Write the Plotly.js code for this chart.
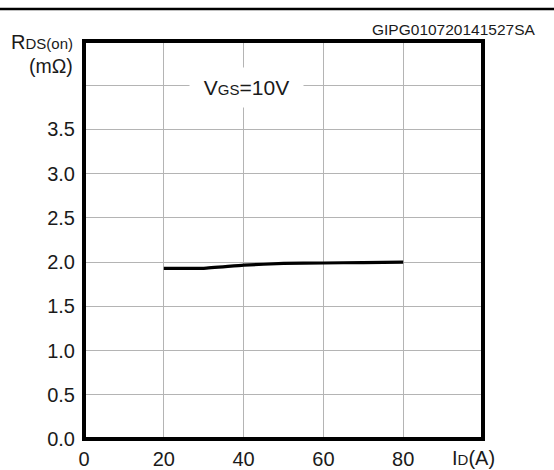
<!DOCTYPE html>
<html>
<head>
<meta charset="utf-8">
<script src="https://cdn.plot.ly/plotly-3.0.1.min.js"></script>
<style>html,body{margin:0;padding:0;background:#fff;}#chart{width:554px;height:470px;}</style>
</head>
<body>
<div id="chart"></div>
<script>
// Data
const idAmps = [20, 30, 40, 50, 60, 70, 80];
const rdsOn = [1.93, 1.93, 1.965, 1.985, 1.99, 1.995, 2.0];
const xTickVals = [0, 20, 40, 60, 80, 100];
const xTickText = ['0', '20', '40', '60', '80', ''];
const yTickVals = [0, 0.5, 1.0, 1.5, 2.0, 2.5, 3.0, 3.5, 4.0];
const yTickText = ['0.0', '0.5', '1.0', '1.5', '2.0', '2.5', '3.0', '3.5', ''];

const FONT = 'Liberation Sans, Arial, sans-serif';
const L = 84, T = 41, W = 399, H = 398;
const px = x => (x - L) / W;
const py = y => (T + H - y) / H;

const trace = {
  x: idAmps, y: rdsOn, type: 'scatter', mode: 'lines',
  line: {color: '#000', width: 3.2, shape: 'spline', smoothing: 0.4},
  hoverinfo: 'skip', showlegend: false
};

const layout = {
  width: 554, height: 470,
  margin: {l: L, r: 554 - L - W, t: T, b: 470 - T - H},
  paper_bgcolor: '#fff', plot_bgcolor: '#fff',
  font: {family: FONT, color: '#1a1a1a', size: 20},
  showlegend: false,
  xaxis: {
    range: [0, 100], tickmode: 'array', tickvals: xTickVals, ticktext: xTickText,
    showgrid: true, gridcolor: '#b4b4b4', gridwidth: 1, zeroline: false,
    showline: false, ticks: '', tickfont: {size: 20, family: FONT, color: '#1a1a1a'},
    ticklabelstandoff: 6, fixedrange: true
  },
  yaxis: {
    range: [0, 4.5], tickmode: 'array', tickvals: yTickVals, ticktext: yTickText,
    showgrid: true, gridcolor: '#b4b4b4', gridwidth: 1, zeroline: false,
    showline: false, ticks: '', tickfont: {size: 20, family: FONT, color: '#1a1a1a'},
    ticklabelstandoff: 8, fixedrange: true
  },
  shapes: [
    {type: 'rect', xref: 'paper', yref: 'paper', x0: 0, x1: 1, y0: 0, y1: 1,
     line: {color: '#000', width: 4}, layer: 'above'},
    {type: 'line', xref: 'paper', yref: 'paper', x0: px(0), x1: px(554), y0: py(9), y1: py(9),
     line: {color: '#000', width: 2.5}}
  ],
  annotations: [
    {xref: 'paper', yref: 'paper', x: px(538), y: py(29), xanchor: 'right', yanchor: 'middle',
     text: 'GIPG010720141527SA', showarrow: false, font: {size: 15.5, family: FONT, color: '#1a1a1a'}},
    {xref: 'paper', yref: 'paper', x: px(75), y: py(42), xanchor: 'right', yanchor: 'middle',
     text: 'R<span style="font-size:15px">DS(on)</span>', showarrow: false, font: {size: 20, family: FONT, color: '#1a1a1a'}},
    {xref: 'paper', yref: 'paper', x: px(75), y: py(66), xanchor: 'right', yanchor: 'middle',
     text: '(mΩ)', showarrow: false, font: {size: 19.5, family: FONT, color: '#1a1a1a'}},
    {xref: 'paper', yref: 'paper', x: px(450), y: py(458), xanchor: 'left', yanchor: 'middle',
     text: 'I<span style="font-size:15px">D</span>(A)', showarrow: false, font: {size: 20, family: FONT, color: '#1a1a1a'}},
    {xref: 'paper', yref: 'paper', x: px(246), y: py(87.5), xanchor: 'center', yanchor: 'middle',
     width: 111, height: 37, bgcolor: '#fff', borderpad: 1,
     text: 'V<span style="font-size:15px">GS</span>=10V', showarrow: false, font: {size: 21, family: FONT, color: '#1a1a1a'}}
  ]
};

Plotly.newPlot('chart', [trace], layout, {staticPlot: true, displayModeBar: false});
</script>
</body>
</html>
